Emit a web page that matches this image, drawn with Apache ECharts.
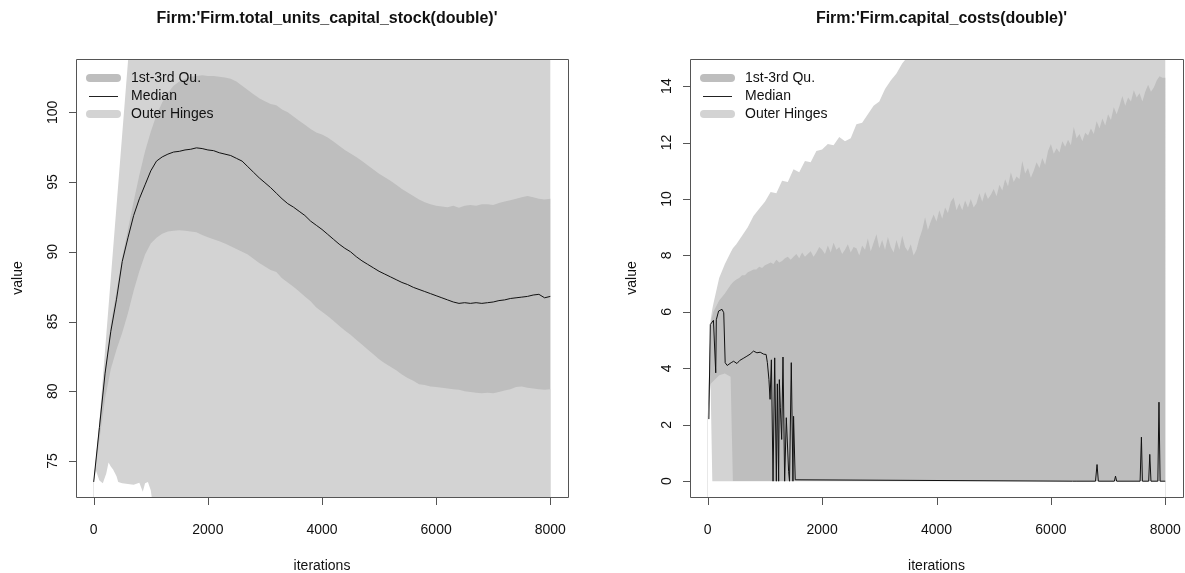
<!DOCTYPE html>
<html>
<head>
<meta charset="utf-8">
<script src="https://cdn.jsdelivr.net/npm/echarts@6/dist/echarts.min.js"></script>
<style>
  html, body { margin: 0; padding: 0; background: #fff; }
  #chart { width: 1185px; height: 573px; }
</style>
</head>
<body>
<div id="chart"></div>
<script>
// ---------- text ----------
const TITLE_STOCK = "Firm:'Firm.total_units_capital_stock(double)'";
const TITLE_COSTS = "Firm:'Firm.capital_costs(double)'";
const LEGEND_LABELS = ['1st-3rd Qu.', 'Median', 'Outer Hinges'];
const X_NAME = 'iterations';
const Y_NAME = 'value';

// ---------- tick labels ----------
const X_TICKS = [0, 2000, 4000, 6000, 8000];
const STOCK_Y_TICKS = [75, 80, 85, 90, 95, 100];
const COSTS_Y_TICKS = [0, 2, 4, 6, 8, 10, 12, 14];

// ---------- total_units_capital_stock (sampled every 100 iterations, 0..8000) ----------
const STOCK_ITER = Array.from({ length: 81 }, (_, i) => i * 100);

const STOCK_Q3 = [
  73.5, 77.8, 81.6, 84.8, 87.2, 89.6, 91.6, 93.6, 95.5, 97.2,
  98.6, 99.8, 100.7, 101.4, 101.9, 102.2, 102.4, 102.55, 102.6, 102.65,
  102.6, 102.6, 102.55, 102.5, 102.4, 102.2, 101.9, 101.6, 101.3, 101.0,
  100.8, 100.6, 100.5, 100.2, 100.0, 99.7, 99.4, 99.1, 98.8, 98.55,
  98.4, 98.2, 97.9, 97.6, 97.3, 97.05, 96.8, 96.5, 96.2, 95.9,
  95.6, 95.35, 95.1, 94.8, 94.5, 94.25, 94.0, 93.75, 93.55, 93.4,
  93.3, 93.25, 93.2, 93.3, 93.15, 93.3, 93.35, 93.3, 93.4, 93.4,
  93.35, 93.5, 93.6, 93.7, 93.8, 93.9, 94.0, 93.9, 93.8, 93.75, 93.8
];

const STOCK_MEDIAN = [
  73.5, 77.4, 81.3, 84.3, 86.6, 89.3, 91.0, 92.6, 93.8, 94.8,
  95.8, 96.5, 96.8, 97.0, 97.15, 97.2, 97.3, 97.35, 97.45, 97.4,
  97.3, 97.25, 97.1, 97.0, 96.9, 96.7, 96.5, 96.1, 95.7, 95.3,
  94.95, 94.6, 94.2, 93.8, 93.45, 93.2, 92.9, 92.6, 92.2, 91.9,
  91.6, 91.25, 90.9, 90.55, 90.25, 90.0, 89.65, 89.35, 89.1, 88.85,
  88.6, 88.4, 88.2, 88.0, 87.8, 87.65, 87.45, 87.3, 87.15, 87.0,
  86.85, 86.7, 86.55, 86.4, 86.3, 86.35, 86.3, 86.35, 86.3, 86.35,
  86.4, 86.5, 86.55, 86.65, 86.7, 86.75, 86.8, 86.9, 86.95, 86.7, 86.8
];

const STOCK_Q1 = [
  73.5, 76.5, 79.5, 81.6, 83.0, 84.2, 85.6, 87.2, 88.6, 89.8,
  90.6, 91.0, 91.3, 91.45, 91.5, 91.55, 91.5, 91.45, 91.4, 91.2,
  91.05, 90.9, 90.75, 90.6, 90.4, 90.2, 90.0, 89.8, 89.5, 89.2,
  88.95, 88.7, 88.55, 88.1, 87.8, 87.5, 87.15, 86.8, 86.45, 86.0,
  85.7, 85.4, 85.05, 84.7, 84.35, 84.05, 83.7, 83.35, 83.0, 82.65,
  82.3, 82.0, 81.75, 81.5, 81.2, 80.95, 80.75, 80.5, 80.45, 80.35,
  80.3, 80.25, 80.2, 80.15, 80.1, 80.0, 79.95, 79.9, 79.85, 79.9,
  79.85, 79.95, 80.05, 80.15, 80.3, 80.35, 80.25, 80.2, 80.15, 80.1, 80.15
];

// outer hinges, at the iterations where their outline changes
const STOCK_HI_ITER = [0, 20, 600, 700, 8000];
const STOCK_HI = [73.5, 73.7, 103.6, 108.8, 108.8];
const STOCK_LO_ITER = [0, 40, 100, 160, 220, 260, 300, 340, 400, 430, 500, 600, 700, 800, 860, 900, 950, 1000, 1030, 1100, 8000];
const STOCK_LO = [73.5, 74.3, 73.6, 73.4, 74.1, 74.9, 74.6, 74.4, 73.9, 73.5, 73.4, 73.35, 73.3, 73.45, 72.8, 73.4, 73.5, 72.9, 72.0, 71.5, 71.5];

// ---------- capital_costs ----------
const COSTS_ITER = [0, 50, 80, 100, 200, 300, 400, 440].concat(Array.from({ length: 76 }, (_, i) => 500 + i * 100));
// the 3rd quartile is read more finely (every 50 iterations from 500)
const COSTS_Q3_ITER = [0, 50, 80, 100, 200, 300, 400, 440].concat(Array.from({ length: 151 }, (_, i) => 500 + i * 50));

const COSTS_HI = [
  2.2, 5.7, 6.1, 6.3, 7.2, 7.7, 8.1, 8.25,
  8.4, 8.7, 9.0, 9.4, 9.65, 9.9, 10.25, 10.2, 10.65, 10.6,
  11.05, 10.95, 11.35, 11.3, 11.7, 11.75, 11.95, 11.9, 12.2, 12.05,
  12.15, 12.65, 12.7, 13.0, 13.3, 13.45, 13.9, 14.2, 14.45, 14.8,
  15.05, 15.3, 15.6,
  16, 16, 16, 16, 16, 16, 16, 16, 16, 16,
  16, 16, 16, 16, 16, 16, 16, 16, 16, 16,
  16, 16, 16, 16, 16, 16, 16, 16, 16, 16,
  16, 16, 16, 16, 16, 16, 16, 16, 16, 16,
  16, 16, 16
];

const COSTS_Q3 = [
  2.2, 5.6, 5.85, 6.0, 6.4, 6.65, 6.95, 7.05,
  7.15, 7.2, 7.3, 7.3, 7.4, 7.45, 7.5, 7.5, 7.6, 7.55,
  7.65, 7.7, 7.75, 7.7, 7.85, 7.75, 7.8, 7.9, 7.95, 7.85,
  7.95, 8.05, 7.9, 8.1, 7.95, 8.05, 8.15, 7.95, 8.1, 8.3,
  8.2, 8.05, 8.35, 8.1, 8.45, 8.2, 8.3, 8.05, 8.2, 8.4,
  8.1, 8.3, 8.25, 8.0, 8.35, 8.2, 8.6, 8.15, 8.45, 8.75,
  8.25, 8.55, 8.2, 8.65, 8.3, 8.1, 8.55, 8.2, 8.7, 8.3,
  8.15, 8.4, 8.0, 8.2, 8.6, 8.9, 9.35, 8.9, 9.2, 9.45,
  9.2, 9.6, 9.3, 9.7, 9.5, 9.9, 10.05, 9.6, 9.85, 9.6,
  9.95, 9.7, 10.0, 9.7, 9.85, 10.2, 9.9, 10.25, 10.0, 10.15,
  10.35, 10.1, 10.5, 10.3, 10.7, 10.45, 10.95, 10.6, 10.8, 10.7,
  11.35, 10.9, 11.1, 10.75, 11.0, 11.3, 11.1, 11.45, 11.2, 11.7,
  11.95, 11.6, 11.8, 11.65, 12.05, 11.85, 12.1, 11.9, 12.55, 12.15,
  12.3, 12.05, 12.35, 12.25, 12.5, 12.3, 12.75, 12.5, 12.85, 12.6,
  13.0, 12.8, 13.25, 13.0, 13.3, 13.65, 13.3, 13.6, 13.45, 13.85,
  13.6, 13.75, 13.45, 13.8, 14.05, 13.8, 13.95, 14.2, 14.35, 14.3,
  14.3
];

const COSTS_Q1 = [
  2.2, 3.45, 3.5, 3.55, 3.75, 3.82, 3.7, 0,
  0, 0, 0, 0, 0, 0, 0, 0, 0, 0,
  0, 0, 0, 0, 0, 0, 0, 0, 0, 0,
  0, 0, 0, 0, 0, 0, 0, 0, 0, 0,
  0, 0, 0, 0, 0, 0, 0, 0, 0, 0,
  0, 0, 0, 0, 0, 0, 0, 0, 0, 0,
  0, 0, 0, 0, 0, 0, 0, 0, 0, 0,
  0, 0, 0, 0, 0, 0, 0, 0, 0, 0,
  0, 0, 0, 0, 0, 0
];

const COSTS_LO = [
  2.2, 3.45, 0, 0, 0, 0, 0, 0,
  0, 0, 0, 0, 0, 0, 0, 0, 0, 0,
  0, 0, 0, 0, 0, 0, 0, 0, 0, 0,
  0, 0, 0, 0, 0, 0, 0, 0, 0, 0,
  0, 0, 0, 0, 0, 0, 0, 0, 0, 0,
  0, 0, 0, 0, 0, 0, 0, 0, 0, 0,
  0, 0, 0, 0, 0, 0, 0, 0, 0, 0,
  0, 0, 0, 0, 0, 0, 0, 0, 0, 0,
  0, 0, 0, 0, 0, 0
];

// median of capital costs: jumps between ~4 and 0 around 1100-1550, isolated spikes late
const COSTS_MED_ITER = [
  20, 45, 100, 125, 140, 150, 190, 250, 280, 305, 340, 365, 410, 452, 511, 560, 620, 685, 740, 800,
  860, 917, 980, 1021, 1043, 1070, 1090, 1113, 1142, 1171, 1200, 1217, 1240, 1252, 1270, 1293, 1316, 1345, 1374, 1414,
  1430, 1461, 1490, 1501, 1530, 1545, 6380, 6412, 6440, 6780, 6807, 6830, 7110, 7130, 7150, 7560, 7583, 7600, 7710, 7729,
  7750, 7870, 7890, 7910, 8000
];
const COSTS_MEDIAN = [
  2.2, 5.55, 5.7, 5.75, 3.84, 5.72, 6.03, 6.09, 5.97, 4.2, 4.1, 4.08, 4.2, 4.25, 4.17, 4.28, 4.35, 4.43, 4.5, 4.61,
  4.55, 4.57, 4.5, 4.49, 4.2, 3.6, 2.9, 4.3, 0, 4.37, 0, 3.45, 0, 3.6, 2.6, 1.48, 4.4, 0, 2.25, 0.35,
  0, 4.2, 0, 2.3, 0.05, 0, 0, 0.06, 0, 0, 0.59, 0, 0, 0.18, 0, 0, 1.56, 0, 0, 0.95,
  0, 0, 2.8, 0, 0
];

// ---------- layout ----------
const FONT = "'Liberation Sans', Arial, Helvetica, sans-serif";
const LIGHT = '#d3d3d3';
const DARK = '#bebebe';
const FRAME = '#555555';
const X_MIN = -310, X_MAX = 8310;
const TICK_LEN = 7;
const PANELS = [
  { left: 76, top: 59, width: 492, height: 438, title: TITLE_STOCK, yMin: 72.42, yMax: 103.82, yTicks: STOCK_Y_TICKS },
  { left: 690, top: 59, width: 493, height: 438, title: TITLE_COSTS, yMin: -0.56, yMax: 14.96, yTicks: COSTS_Y_TICKS }
];

const zip = (xs, ys) => xs.map((x, i) => [x, ys[i]]);

function band(idx, xs, ys, color) {
  return {
    type: 'line', xAxisIndex: idx, yAxisIndex: idx,
    data: zip(xs, ys), symbol: 'none', silent: true, clip: true,
    lineStyle: { width: 0 },
    areaStyle: { color: color, opacity: 1, origin: 'start' },
    animation: false
  };
}
function medianLine(idx, xs, ys) {
  return {
    type: 'line', xAxisIndex: idx, yAxisIndex: idx,
    data: zip(xs, ys), symbol: 'none', silent: true, clip: true,
    lineStyle: { color: '#111', width: 1 },
    animation: false
  };
}

// bands painted bottom-up: outer upper, 3rd quartile, 1st quartile, outer lower (white)
const series = [
  band(0, STOCK_HI_ITER, STOCK_HI, LIGHT),
  band(0, STOCK_ITER, STOCK_Q3, DARK),
  band(0, STOCK_ITER, STOCK_Q1, LIGHT),
  band(0, STOCK_LO_ITER, STOCK_LO, '#ffffff'),
  medianLine(0, STOCK_ITER, STOCK_MEDIAN),
  band(1, COSTS_ITER, COSTS_HI, LIGHT),
  band(1, COSTS_Q3_ITER, COSTS_Q3, DARK),
  band(1, COSTS_ITER, COSTS_Q1, LIGHT),
  band(1, COSTS_ITER, COSTS_LO, '#ffffff'),
  medianLine(1, COSTS_MED_ITER, COSTS_MEDIAN)
];

function legendFor(p) {
  const x0 = p.left + 14, x1 = p.left + 41, tx = p.left + 55;
  const ys = [p.top + 19, p.top + 37, p.top + 55];
  const text = (y, s) => ({
    type: 'text', z: 200, x: tx, y: y,
    style: { text: s, fill: '#111', font: '14px ' + FONT, textVerticalAlign: 'middle', textAlign: 'left' }
  });
  return [
    { type: 'line', z: 200, shape: { x1: x0, y1: ys[0], x2: x1, y2: ys[0] }, style: { stroke: DARK, lineWidth: 8, lineCap: 'round' } },
    { type: 'line', z: 200, shape: { x1: x0 - 1, y1: ys[1] + 0.5, x2: x1 + 1, y2: ys[1] + 0.5 }, style: { stroke: '#222', lineWidth: 1 } },
    { type: 'line', z: 200, shape: { x1: x0, y1: ys[2], x2: x1, y2: ys[2] }, style: { stroke: LIGHT, lineWidth: 8, lineCap: 'round' } },
    text(ys[0], LEGEND_LABELS[0]),
    text(ys[1], LEGEND_LABELS[1]),
    text(ys[2], LEGEND_LABELS[2])
  ];
}

const frames = PANELS.map(p => ({
  type: 'rect', z: 150, silent: true,
  shape: { x: p.left + 0.5, y: p.top + 0.5, width: p.width, height: p.height },
  style: { fill: 'none', stroke: FRAME, lineWidth: 1 }
}));

const plain = v => String(v);

const option = {
  backgroundColor: '#ffffff',
  animation: false,
  title: PANELS.map(p => ({
    text: p.title, left: p.left + p.width / 2, top: 6, textAlign: 'center',
    textStyle: { fontFamily: FONT, fontSize: 16, fontWeight: 'bold', color: '#111' }
  })),
  grid: PANELS.map(p => ({
    left: p.left, top: p.top, width: p.width, height: p.height,
    containLabel: false, outerBoundsMode: 'none'
  })),
  xAxis: PANELS.map((p, i) => ({
    type: 'value', gridIndex: i, min: X_MIN, max: X_MAX, position: 'bottom',
    splitLine: { show: false }, axisLine: { show: false, onZero: false },
    axisTick: { show: false },
    axisLabel: { show: true, customValues: X_TICKS, margin: 26, formatter: plain, fontFamily: FONT, fontSize: 14, color: '#111' },
    name: X_NAME, nameLocation: 'middle', nameGap: 62,
    nameTextStyle: { fontFamily: FONT, fontSize: 14, color: '#111' }
  })),
  yAxis: PANELS.map((p, i) => ({
    type: 'value', gridIndex: i, min: p.yMin, max: p.yMax, position: 'left',
    splitLine: { show: false }, axisLine: { show: false, onZero: false },
    axisTick: { show: false },
    axisLabel: { show: true, customValues: p.yTicks, rotate: 90, margin: 16, formatter: plain, fontFamily: FONT, fontSize: 14, color: '#111' },
    name: Y_NAME, nameLocation: 'middle', nameGap: 51, nameRotate: 90,
    nameTextStyle: { fontFamily: FONT, fontSize: 14, color: '#111' }
  })),
  graphic: { elements: frames.concat(legendFor(PANELS[0]), legendFor(PANELS[1])) },
  series: series
};

const chart = echarts.init(document.getElementById('chart'), null, { renderer: 'canvas' });
chart.setOption(option);

// outward tick marks on the bottom and left edges, positioned through each grid's axis scales
function toPixel(i, p, value) {
  let pt = null;
  try { pt = chart.convertToPixel({ gridIndex: i }, value); } catch (e) { pt = null; }
  if (!pt || !isFinite(pt[0]) || !isFinite(pt[1])) {
    pt = [p.left + (value[0] - X_MIN) / (X_MAX - X_MIN) * p.width,
          p.top + (p.yMax - value[1]) / (p.yMax - p.yMin) * p.height];
  }
  return pt;
}
const tickMarks = [];
PANELS.forEach((p, i) => {
  const bottom = p.top + p.height + 1;
  const left = p.left;
  X_TICKS.forEach(v => {
    const x = Math.round(toPixel(i, p, [v, p.yMin])[0]);
    tickMarks.push({ type: 'rect', z: 160, silent: true,
      shape: { x: x, y: bottom, width: 1, height: TICK_LEN },
      style: { fill: FRAME } });
  });
  p.yTicks.forEach(v => {
    const y = Math.round(toPixel(i, p, [X_MIN, v])[1]);
    tickMarks.push({ type: 'rect', z: 160, silent: true,
      shape: { x: left - TICK_LEN, y: y, width: TICK_LEN, height: 1 },
      style: { fill: FRAME } });
  });
});

// rebuild the whole option with the tick marks included in the graphic list
option.graphic = { elements: frames.concat(legendFor(PANELS[0]), legendFor(PANELS[1]), tickMarks) };
chart.setOption(option, true);
</script>
</body>
</html>
